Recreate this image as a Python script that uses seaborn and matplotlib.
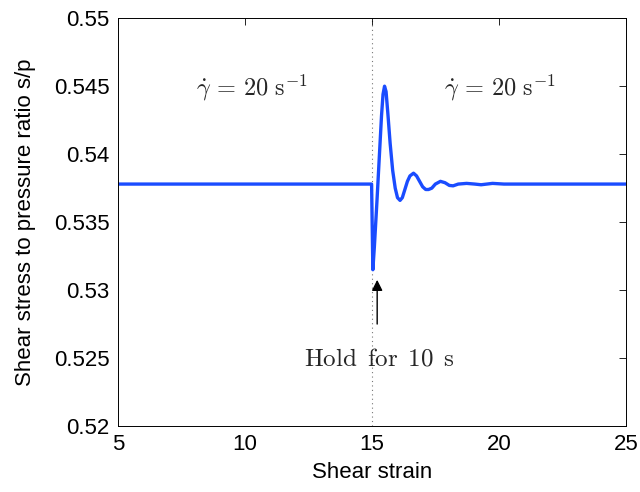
import matplotlib
matplotlib.use("Agg")
import matplotlib.pyplot as plt
import seaborn as sns
import pandas as pd

# Data
strain = [5.0, 14.99, 15.04, 15.10, 15.20, 15.30, 15.38, 15.44, 15.50, 15.56,
          15.63, 15.72, 15.82, 15.92, 16.01, 16.11, 16.20, 16.30, 16.40, 16.50,
          16.64, 16.76, 16.88, 17.00, 17.12, 17.23, 17.36, 17.50, 17.70, 17.88,
          18.05, 18.20, 18.40, 18.73, 19.05, 19.30, 19.75, 20.20, 25.0]
ratio = [0.5378, 0.5378, 0.5315, 0.5332, 0.5365, 0.5400, 0.5428, 0.5444, 0.5450, 0.5446,
         0.5430, 0.5408, 0.5388, 0.5375, 0.5368, 0.5366, 0.5368, 0.5374, 0.5380, 0.5384,
         0.5386, 0.5384, 0.5380, 0.5376, 0.5374, 0.5374, 0.5375, 0.5378, 0.5380, 0.5379,
         0.5377, 0.53767, 0.5378, 0.53785, 0.5378, 0.53775, 0.53785, 0.5378, 0.5378]

x_ticks = [5, 10, 15, 20, 25]
x_ticklabels = ["5", "10", "15", "20", "25"]
y_ticks = [0.52, 0.525, 0.53, 0.535, 0.54, 0.545, 0.55]
y_ticklabels = ["0.52", "0.525", "0.53", "0.535", "0.54", "0.545", "0.55"]

hold_strain = 15.0
rate_label = r"$\dot{\gamma}\, =\, 20\ \mathrm{s}^{-1}$"
hold_label = r"$\mathrm{Hold\ \,for\ \,10\ \,s}$"

sns.set_theme(style="white")
plt.rcParams["font.family"] = ["Liberation Sans", "DejaVu Sans"]
plt.rcParams["mathtext.fontset"] = "cm"

fig = plt.figure(figsize=(6.4, 4.92), dpi=100)
ax = fig.add_axes([0.184, 0.134, 0.794, 0.829])

df = pd.DataFrame({"strain": strain, "ratio": ratio})
sns.lineplot(data=df, x="strain", y="ratio", ax=ax, sort=False, estimator=None,
             color="#1a4cff", linewidth=2.4)

ax.axvline(hold_strain, color="#777777", linestyle=(0, (1, 3)), linewidth=0.8, zorder=0)

ax.set_xlim(5, 25)
ax.set_ylim(0.52, 0.55)
ax.set_xticks(x_ticks)
ax.set_xticklabels(x_ticklabels)
ax.set_yticks(y_ticks)
ax.set_yticklabels(y_ticklabels)
ax.tick_params(direction="in", length=5, width=0.6, color="black", labelsize=16,
               top=True, right=True, pad=6, labelcolor="black")
for s in ax.spines.values():
    s.set_visible(True)
    s.set_color("black")
    s.set_linewidth(0.7)

ax.set_xlabel("Shear strain", fontsize=16, color="black", labelpad=5)
ax.set_ylabel("Shear stress to pressure ratio s/p", fontsize=16, color="black", labelpad=13)

ax.text(10.26, 0.54485, rate_label, fontsize=17.5, ha="center", va="center")
ax.text(20.04, 0.54485, rate_label, fontsize=17.5, ha="center", va="center")
ax.text(15.28, 0.5250, hold_label, fontsize=18, ha="center", va="center")
ax.annotate("", xy=(15.21, 0.53096), xytext=(15.21, 0.5273),
            arrowprops=dict(arrowstyle="-|>", color="black", lw=1.0, mutation_scale=16))

fig.savefig("out.png", dpi=100)
